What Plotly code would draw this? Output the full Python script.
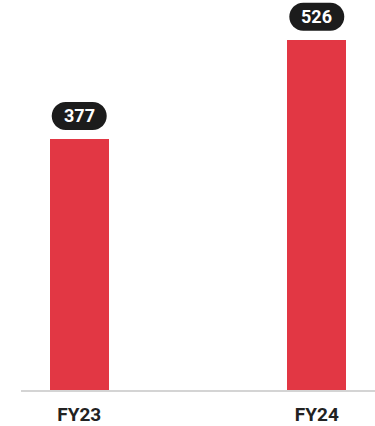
import plotly.graph_objects as go

# Fiscal-year values
categories = ["FY23", "FY24"]
values = [377, 526]

BAR_COLOR = "#E23744"
PILL_COLOR = "#1c1c1c"
TEXT_COLOR = "#222222"

fig = go.Figure(
    go.Bar(
        x=categories,
        y=values,
        marker=dict(color=BAR_COLOR, line=dict(width=0)),
        width=0.248,
        hoverinfo="skip",
    )
)

# Rounded "pill" badge above each bar, sized in pixels and anchored to the bar top
pw, ph, gap = 55, 28, 9
r = ph / 2
k = 0.5523 * r
x0, x1 = -pw / 2 + r, pw / 2 - r
yb, yt, yc = gap, gap + ph, gap + r
pill_path = (
    f"M {x0},{yb} L {x1},{yb} "
    f"C {x1 + k},{yb} {pw / 2},{yc - k} {pw / 2},{yc} "
    f"C {pw / 2},{yc + k} {x1 + k},{yt} {x1},{yt} "
    f"L {x0},{yt} "
    f"C {x0 - k},{yt} {-pw / 2},{yc + k} {-pw / 2},{yc} "
    f"C {-pw / 2},{yc - k} {x0 - k},{yb} {x0},{yb} Z"
)

for cat, val in zip(categories, values):
    fig.add_shape(
        type="path",
        path=pill_path,
        xref="x",
        yref="y",
        xsizemode="pixel",
        ysizemode="pixel",
        xanchor=cat,
        yanchor=val,
        fillcolor=PILL_COLOR,
        line=dict(width=0),
        layer="above",
    )
    fig.add_annotation(
        x=cat,
        y=val,
        yshift=yc,
        text=str(val),
        showarrow=False,
        font=dict(family="Roboto", size=18, color="white", weight="bold"),
        xanchor="center",
        yanchor="middle",
    )

fig.update_layout(
    width=375,
    height=426,
    margin=dict(l=21, r=0, t=0, b=36),
    paper_bgcolor="white",
    plot_bgcolor="white",
    showlegend=False,
    bargap=0,
    xaxis=dict(
        type="category",
        range=[-0.245, 1.245],
        showline=True,
        linecolor="#d4d4d4",
        linewidth=2,
        showgrid=False,
        zeroline=False,
        ticks="outside",
        ticklen=6,
        tickcolor="rgba(0,0,0,0)",
        tickfont=dict(family="Roboto", size=19, color=TEXT_COLOR, weight="bold"),
        fixedrange=True,
    ),
    yaxis=dict(
        range=[0, 585.6],
        visible=False,
        fixedrange=True,
    ),
)

fig.write_html("out.html")
